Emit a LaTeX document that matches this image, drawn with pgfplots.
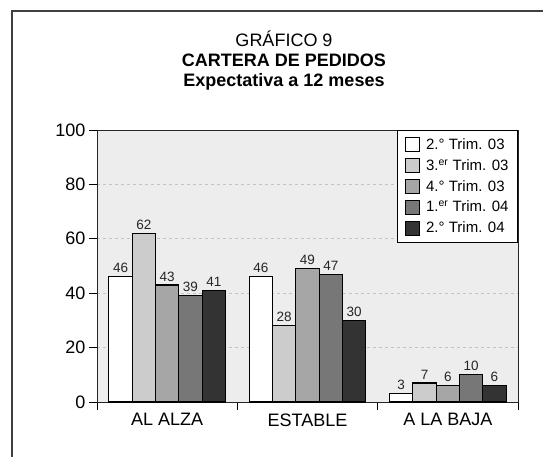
\documentclass[border=0pt]{standalone}
\usepackage{fontspec}
\setmainfont{Liberation Sans}
\usepackage{pgfplots}
\pgfplotsset{compat=1.18}

\definecolor{fondo}{HTML}{EDEDED}
\definecolor{rejilla}{HTML}{C4C4C4}
\definecolor{gA}{HTML}{FFFFFF}
\definecolor{gB}{HTML}{CCCCCC}
\definecolor{gC}{HTML}{A6A6A6}
\definecolor{gD}{HTML}{777777}
\definecolor{gE}{HTML}{333333}

\begin{document}
\begin{tikzpicture}[x=1pt,y=1pt]
\useasboundingbox (0,0) rectangle (543,456);
% marco exterior (cortado a la derecha y abajo)
\draw[line width=1.2pt,black!75] (12,-10) -- (12,445) -- (560,445);
% titulos
\node[anchor=base,font=\fontsize{18}{20}\selectfont] at (284,409) {GRÁFICO 9};
\node[anchor=base,font=\bfseries\fontsize{18}{20}\selectfont] at (284,389) {CARTERA DE PEDIDOS};
\node[anchor=base,font=\bfseries\fontsize{18}{20}\selectfont] at (284,369) {Expectativa a 12 meses};

\begin{axis}[
    at={(97pt,54pt)}, anchor=south west,
    scale only axis, width=421pt, height=272pt,
    ybar, bar width=0.166,
    xmin=-0.5, xmax=2.5, ymin=0, ymax=100,
    ytick={0,20,...,100},
    xtick={0,1,2},
    xticklabels={AL ALZA,ESTABLE,A LA BAJA},
    minor xtick={-0.5,0.5,1.5,2.5},
    major x tick style={draw=none},
    minor x tick style={draw=black,line width=1pt},
    minor tick length=8pt, major tick length=8pt,
    tick align=outside, tick pos=left,
    y tick style={draw=black,line width=1pt},
    ymajorgrids, major grid style={rejilla,dashed,line width=0.8pt},
    axis background/.style={fill=fondo},
    axis line style={black!85,line width=1pt},
    ticklabel style={font=\fontsize{18}{20}\selectfont},
    /pgf/number format/assume math mode=true,
    nodes near coords,
    every node near coord/.append style={font=\fontsize{13.5}{15}\selectfont,text=black!85},
    every axis plot/.append style={draw=black,line width=1.1pt,
      legend image code/.code={\path[draw=none,fill=none] (0pt,0pt) -- (19pt,0pt);
        \draw[##1,line width=1pt] (0pt,-7pt) rectangle (14pt,7pt);}},
    legend cell align=left,
    legend style={at={(1,1)},anchor=north east,draw=black,line width=1pt,fill=white,
      font=\fontsize{15}{17}\selectfont,inner xsep=7pt,inner ysep=6pt,row sep=4.5pt},
]
\addplot[fill=gA,bar shift=-0.332] coordinates {(0,46) (1,46) (2,3)};
\addlegendentry{2.° Trim. 03}
\addplot[fill=gB,bar shift=-0.166] coordinates {(0,62) (1,28) (2,7)};
\addlegendentry{3.\textsuperscript{er} Trim. 03}
\addplot[fill=gC,bar shift=0] coordinates {(0,43) (1,49) (2,6)};
\addlegendentry{4.° Trim. 03}
\addplot[fill=gD,bar shift=0.166] coordinates {(0,39) (1,47) (2,10)};
\addlegendentry{1.\textsuperscript{er} Trim. 04}
\addplot[fill=gE,bar shift=0.332] coordinates {(0,41) (1,30) (2,6)};
\addlegendentry{2.° Trim. 04}
\end{axis}
\end{tikzpicture}
\end{document}
